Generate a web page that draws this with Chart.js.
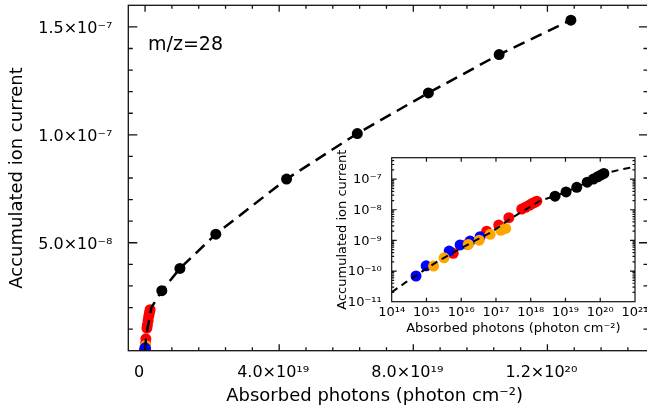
<!DOCTYPE html>
<html><head><meta charset="utf-8">
<script src="https://cdn.jsdelivr.net/npm/chart.js@4/dist/chart.umd.min.js"></script>
<style>
html,body{margin:0;padding:0;background:#fff;overflow:hidden;width:647px;height:410px;}
#main{position:absolute;left:0;top:0;}
#inset{position:absolute;left:330px;top:148px;}
</style></head><body>
<canvas id="main" width="648" height="410"></canvas>
<canvas id="inset" width="317" height="192"></canvas>
<script>
// ---- data (absorbed photons, accumulated ion current) ----
const blueX   = [5.0e14, 9.8e14, 4.5e15, 9.3e15, 1.8e16, 3.5e16];
const blueY   = [6.9e-11, 1.48e-10, 4.5e-10, 7.1e-10, 9.5e-10, 1.32e-9];
const orangeX = [1.6e15, 3.2e15, 1.6e16, 3.3e16, 6.8e16, 1.38e17, 1.9e17];
const orangeY = [1.45e-10, 2.7e-10, 7.4e-10, 1.02e-9, 1.58e-9, 2.14e-9, 2.45e-9];
const redX    = [5.9e15, 1.5e16, 5.4e16, 1.2e17, 2.35e17, 5.5e17, 7.0e17, 9.0e17, 1.1e18, 1.3e18, 1.5e18];
const redY    = [3.8e-10, 7.5e-10, 2.0e-9, 3.16e-9, 5.5e-9, 1.05e-8, 1.2e-8, 1.4e-8, 1.6e-8, 1.75e-8, 1.9e-8];
const blackX  = [5.0e18, 1.04e19, 2.11e19, 4.22e19, 6.33e19, 8.45e19, 1.056e20, 1.27e20];
const blackY  = [2.78e-8, 3.81e-8, 5.40e-8, 7.95e-8, 1.006e-7, 1.194e-7, 1.372e-7, 1.531e-7];
const fitX    = [1e14, 2.7e14, 1e15, 2e15, 6.6e15, 2.2e16, 7.6e16, 2.5e17, 5.5e17, 1.0e18, 1.9e18, 5.0e18, 1.04e19, 2.11e19, 4.22e19, 6.33e19, 8.45e19, 1.056e20, 1.27e20, 4.6e20, 7.2e20, 1e21];
const fitY    = [2.04e-11, 4.5e-11, 1.2e-10, 2.0e-10, 4.3e-10, 9.1e-10, 1.9e-9, 5.0e-9, 8.5e-9, 1.26e-8, 2.0e-8, 2.78e-8, 3.81e-8, 5.40e-8, 7.95e-8, 1.006e-7, 1.194e-7, 1.372e-7, 1.531e-7, 2.14e-7, 2.34e-7, 2.45e-7];
const mainFitMaxX = 1.27e20;

// ---- tick labels ----
const mainXTicks  = [0, 4e19, 8e19, 1.2e20];
const mainXLabels = ['0', '4.0×10¹⁹', '8.0×10¹⁹', '1.2×10²⁰'];
const mainYTicks  = [5e-8, 1e-7, 1.5e-7];
const mainYLabels = ['5.0×10⁻⁸', '1.0×10⁻⁷', '1.5×10⁻⁷'];
const insetXTicks  = [1e14, 1e15, 1e16, 1e17, 1e18, 1e19, 1e20, 1e21];
const insetXLabels = ['10¹⁴', '10¹⁵', '10¹⁶', '10¹⁷', '10¹⁸', '10¹⁹', '10²⁰', '10²¹'];
const insetYTicks  = [1e-11, 1e-10, 1e-9, 1e-8, 1e-7];
const insetYLabels = ['10⁻¹¹', '10⁻¹⁰', '10⁻⁹', '10⁻⁸', '10⁻⁷'];

const xTitle = 'Absorbed photons (photon cm⁻²)';
const yTitle = 'Accumulated ion current';
const annotation = 'm/z=28';

const zip = (xs, ys) => xs.map((v, i) => ({x: v, y: ys[i]}));

Chart.defaults.font.family = "'DejaVu Sans', sans-serif";
Chart.defaults.color = '#000';

function framePlugin(opts) {
  return {
    id: 'frameTicks',
    afterDraw(chart) {
      const {ctx, chartArea: a, scales} = chart;
      const x = scales.x, y = scales.y;
      ctx.save();
      ctx.strokeStyle = '#111';
      ctx.lineWidth = opts.lw;
      ctx.strokeRect(a.left, a.top, a.right - a.left, a.bottom - a.top);
      ctx.beginPath();
      opts.xTicks(x).forEach(t => {
        const px = x.getPixelForValue(t.v);
        if (px <= a.left + 0.5 || px >= a.right - 0.5) return;
        ctx.moveTo(px, a.bottom); ctx.lineTo(px, a.bottom - t.len);
        ctx.moveTo(px, a.top); ctx.lineTo(px, a.top + t.len);
      });
      opts.yTicks(y).forEach(t => {
        const py = y.getPixelForValue(t.v);
        if (py <= a.top + 0.5 || py >= a.bottom - 0.5) return;
        ctx.moveTo(a.left, py); ctx.lineTo(a.left + t.len, py);
        ctx.moveTo(a.right, py); ctx.lineTo(a.right - t.len, py);
      });
      ctx.stroke();
      if (opts.text) {
        ctx.fillStyle = '#000';
        ctx.font = opts.text.font;
        ctx.textBaseline = 'alphabetic';
        ctx.textAlign = 'left';
        ctx.fillText(opts.text.str, opts.text.x, opts.text.y);
      }
      ctx.restore();
    }
  };
}

function fixedAxis(size, isX) {
  return function (scale) {
    if (isX) scale.height = size; else scale.width = size;
    scale.paddingLeft = 0; scale.paddingRight = 0;
    scale.paddingTop = 0; scale.paddingBottom = 0;
  };
}

// ---------------- main chart ----------------
new Chart(document.getElementById('main'), {
  type: 'scatter',
  data: {
    datasets: [
      {type: 'line', data: zip(fitX, fitY).filter(p => p.x <= mainFitMaxX), borderColor: '#000', borderWidth: 2.5,
       borderDash: [12, 7], pointRadius: 0, fill: false, tension: 0},
      {data: zip(blueX, blueY), backgroundColor: '#0000ff', pointRadius: 5.5, borderWidth: 0},
      {data: zip(orangeX, orangeY), backgroundColor: '#ffa500', pointRadius: 5.5, borderWidth: 0},
      {data: zip(redX, redY), backgroundColor: '#ff0000', pointRadius: 5.5, borderWidth: 0},
      {data: zip(blackX, blackY), backgroundColor: '#000000', pointRadius: 5.5, borderWidth: 0}
    ]
  },
  options: {
    responsive: false, animation: false, devicePixelRatio: 1,
    layout: {autoPadding: false, padding: {top: 5.3, right: 0, bottom: 0, left: 0}},
    plugins: {legend: {display: false}, tooltip: {enabled: false}},
    scales: {
      x: {
        type: 'linear', min: -5e18, max: 1.5e20,
        afterBuildTicks: s => { s.ticks = mainXTicks.map(v => ({value: v})); },
        afterFit: fixedAxis(59.3, true),
        grid: {display: false, drawTicks: false},
        border: {display: false},
        ticks: {callback: (v, i) => mainXLabels[i], font: {size: 16}, padding: 13, labelOffset: -6, maxRotation: 0, autoSkip: false},
        title: {display: true, text: xTitle + '\u2002\u2002\u2002', font: {size: 18}, padding: {top: 0, bottom: 2.5}}
      },
      y: {
        type: 'linear', min: 0, max: 1.6e-7,
        afterBuildTicks: s => { s.ticks = mainYTicks.map(v => ({value: v})); },
        afterFit: fixedAxis(128.3, false),
        grid: {display: false, drawTicks: false},
        border: {display: false},
        ticks: {callback: (v, i) => mainYLabels[i], font: {size: 16}, padding: 16, labelOffset: 2, autoSkip: false},
        title: {display: true, text: yTitle, font: {size: 18}, padding: {top: 6.5, bottom: 0}}
      }
    }
  },
  plugins: [framePlugin({
    lw: 1.3,
    xTicks: () => {
      const t = [];
      for (let k = -1; k <= 19; k++) t.push({v: k * 8e18, len: (k % 5 === 0) ? 6.5 : 3.5});
      return t;
    },
    yTicks: () => {
      const t = [];
      for (let k = 1; k <= 16; k++) t.push({v: k * 1e-8, len: (k % 5 === 0) ? 9 : 4.5});
      return t;
    },
    text: {str: annotation, font: "19px 'DejaVu Sans'", x: 148, y: 49.5}
  })]
});

// ---------------- inset chart ----------------
new Chart(document.getElementById('inset'), {
  type: 'scatter',
  data: {
    datasets: [
      {type: 'line', data: zip(fitX, fitY), borderColor: '#000', borderWidth: 2,
       borderDash: [7, 5], pointRadius: 0, fill: false, tension: 0},
      {data: zip(orangeX, orangeY), backgroundColor: '#ffa500', pointRadius: 5.5, borderWidth: 0},
      {data: zip(blueX, blueY), backgroundColor: '#0000ff', pointRadius: 5.5, borderWidth: 0},
      {data: zip(redX, redY), backgroundColor: '#ff0000', pointRadius: 5.5, borderWidth: 0},
      {data: zip(blackX, blackY), backgroundColor: '#000000', pointRadius: 5.5, borderWidth: 0}
    ]
  },
  options: {
    responsive: false, animation: false, devicePixelRatio: 1,
    layout: {autoPadding: false, padding: {top: 9.7, right: 12, bottom: 0, left: 0}},
    plugins: {legend: {display: false}, tooltip: {enabled: false}},
    scales: {
      x: {
        type: 'logarithmic', min: 1e14, max: 1e21,
        afterBuildTicks: s => { s.ticks = insetXTicks.map(v => ({value: v})); },
        afterFit: fixedAxis(38.3, true),
        grid: {display: false, drawTicks: false},
        border: {display: false},
        ticks: {callback: (v, i) => insetXLabels[i], font: {size: 13}, padding: 3, maxRotation: 0, autoSkip: false},
        title: {display: true, text: xTitle, font: {size: 13}, padding: {top: 0, bottom: 3.4}}
      },
      y: {
        type: 'logarithmic', min: 1e-11, max: 5e-7,
        afterBuildTicks: s => { s.ticks = insetYTicks.map(v => ({value: v})); },
        afterFit: fixedAxis(61.7, false),
        grid: {display: false, drawTicks: false},
        border: {display: false},
        ticks: {callback: (v, i) => insetYLabels[i], font: {size: 13}, padding: 10, labelOffset: 1, autoSkip: false},
        title: {display: true, text: yTitle, font: {size: 13}, padding: {top: 4.9, bottom: 0}}
      }
    }
  },
  plugins: [framePlugin({
    lw: 1.2,
    xTicks: () => {
      const t = [];
      for (let e = 15; e <= 20; e++) t.push({v: Math.pow(10, e), len: 4});
      return t;
    },
    yTicks: () => {
      const t = [];
      for (let e = -11; e <= -7; e++) {
        t.push({v: Math.pow(10, e), len: 5});
        for (let m = 2; m <= 9; m++) t.push({v: m * Math.pow(10, e), len: 2.5});
      }
      return t;
    }
  })]
});
</script>
</body></html>
